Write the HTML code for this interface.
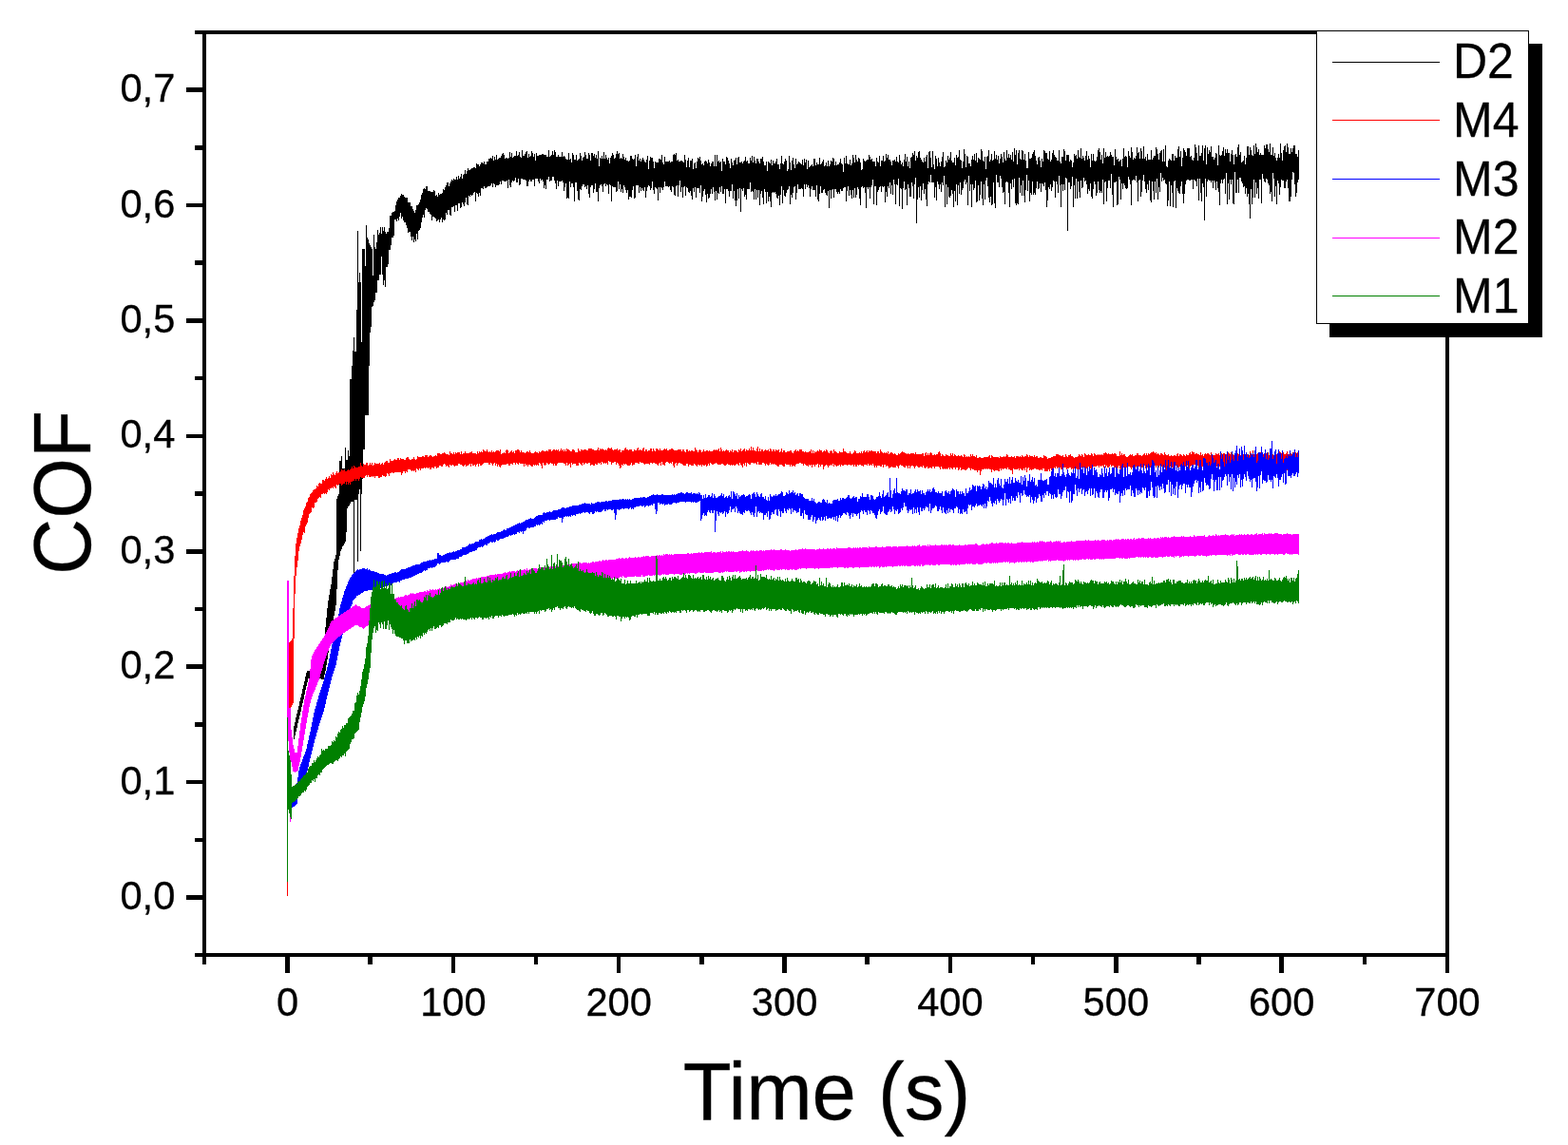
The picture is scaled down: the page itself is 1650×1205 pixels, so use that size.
<!DOCTYPE html>
<html><head><meta charset="utf-8"><title>COF vs Time</title>
<style>
html,body{margin:0;padding:0;background:#fff;overflow:hidden;}
svg{display:block;}
text{font-family:"Liberation Sans",Arial,sans-serif;fill:#000;stroke:#000;stroke-width:0.3px;stroke-linejoin:round;}
</style></head>
<body>
<svg width="1650" height="1205" viewBox="0 0 1650 1205">
<rect width="1650" height="1205" fill="#fff"/>
<g shape-rendering="crispEdges">
<rect x="205" y="32" width="1320" height="4" fill="#000"/>
<rect x="205" y="1003" width="1320" height="4" fill="#000"/>
<rect x="213" y="32" width="4" height="983" fill="#000"/>
<rect x="1521" y="32" width="4" height="992" fill="#000"/>
<rect x="196" y="942" width="17" height="5" fill="#000"/>
<rect x="196" y="821" width="17" height="4" fill="#000"/>
<rect x="196" y="699" width="17" height="5" fill="#000"/>
<rect x="196" y="578" width="17" height="5" fill="#000"/>
<rect x="196" y="457" width="17" height="4" fill="#000"/>
<rect x="196" y="335" width="17" height="5" fill="#000"/>
<rect x="196" y="214" width="17" height="4" fill="#000"/>
<rect x="196" y="92" width="17" height="5" fill="#000"/>
<rect x="205" y="882" width="8" height="4" fill="#000"/>
<rect x="205" y="760" width="8" height="5" fill="#000"/>
<rect x="205" y="639" width="8" height="4" fill="#000"/>
<rect x="205" y="517" width="8" height="5" fill="#000"/>
<rect x="205" y="396" width="8" height="4" fill="#000"/>
<rect x="205" y="274" width="8" height="5" fill="#000"/>
<rect x="205" y="153" width="8" height="5" fill="#000"/>
<rect x="300" y="1007" width="5" height="17" fill="#000"/>
<rect x="387" y="1007" width="5" height="8" fill="#000"/>
<rect x="475" y="1007" width="4" height="17" fill="#000"/>
<rect x="562" y="1007" width="4" height="8" fill="#000"/>
<rect x="649" y="1007" width="4" height="17" fill="#000"/>
<rect x="736" y="1007" width="5" height="8" fill="#000"/>
<rect x="823" y="1007" width="5" height="17" fill="#000"/>
<rect x="910" y="1007" width="5" height="8" fill="#000"/>
<rect x="998" y="1007" width="4" height="17" fill="#000"/>
<rect x="1085" y="1007" width="4" height="8" fill="#000"/>
<rect x="1172" y="1007" width="5" height="17" fill="#000"/>
<rect x="1259" y="1007" width="5" height="8" fill="#000"/>
<rect x="1346" y="1007" width="5" height="17" fill="#000"/>
<rect x="1434" y="1007" width="4" height="8" fill="#000"/>
</g>
<g shape-rendering="crispEdges" fill="none" stroke-width="1" transform="translate(0.5,0)">
<path d="M309 764v14M310 760v14M311 755v15M312 751v15M313 747v14M314 743v14M315 738v15M316 734v15M317 730v14M318 725v15M319 721v15M320 717v14M321 712v14M322 708v14M323 706v12M324 706v8M325 706v8M326 705v9M327 705v9M328 705v8M329 705v8M330 704v9M331 704v9M332 703v10M333 703v10M334 702v12M335 701v13M336 701v13M337 700v14M338 692v23M339 690v25M340 688v27M341 674v36M342 660v46M343 650v50M344 640v54M345 632v55M346 626v55M347 620v54M348 615v53M349 607v54M350 599v56M351 591v57M352 588v55M353 584v53M354 525v95M355 522v78M356 520v69M357 485v100M358 485v95M359 480v98M360 493v82M361 493v81M362 493v79M363 471v99M364 484v76M365 484v51M366 474v59M367 480v52M368 399v131M369 399v129M370 385v143M371 369v159M372 355v248M373 370v156M374 370v156M375 326v200M376 243v348M377 297v223M378 287v228M379 297v283M380 360v160M381 262v242M382 262v211M383 262v211M384 280v157M385 237v200M386 250v187M387 252v185M388 256v129M389 258v92M390 260v84M391 262v61M392 290v32M393 247v71M394 260v56M395 262v46M396 255v53M397 242v53M398 247v48M399 245v44M400 239v50M401 246v24M402 239v50M403 243v57M404 239v56M405 244v58M406 246v35M407 244v37M408 244v34M409 240v23M410 227v36M411 227v31M412 224v26M413 223v27M414 223v25M415 222v9M416 216v15M417 212v21M418 210v20M419 208v24M420 208v20M421 206v18M422 204v26M423 205v23M424 205v27M425 207v27M426 208v26M427 208v29M428 208v32M429 213v32M430 213v31M431 213v31M432 217v32M433 217v36M434 220v29M435 222v33M436 224v28M437 221v33M438 216v30M439 216v36M440 215v28M441 213v29M442 210v30M443 205v29M444 203v26M445 199v27M446 198v31M447 199v22M448 196v23M449 196v24M450 201v22M451 201v22M452 201v24M453 202v24M454 202v30M455 202v26M456 200v28M457 201v28M458 206v24M459 205v28M460 207v25M461 203v28M462 205v29M463 204v27M464 204v25M465 203v31M466 199v32M467 200v32M468 197v34M469 195v29M470 192v34M471 192v29M472 196v25M473 193v33M474 191v36M475 189v29M476 190v28M477 188v29M478 189v34M479 189v27M480 186v30M481 189v33M482 185v29M483 188v26M484 186v33M485 183v35M486 188v25M487 184v31M488 183v34M489 179v34M490 183v25M491 180v35M492 177v39M493 179v27M494 179v28M495 178v27M496 177v29M497 177v28M498 176v27M499 176v26M500 177v35M501 172v31M502 173v31M503 173v34M504 175v28M505 173v33M506 171v27M507 171v27M508 172v27M509 170v26M510 173v25M511 173v25M512 170v27M513 170v26M514 167v29M515 167v29M516 166v29M517 167v26M518 164v33M519 169v24M520 165v29M521 168v29M522 163v32M523 168v27M524 167v28M525 166v28M526 166v25M527 164v30M528 162v28M529 161v29M530 163v28M531 167v24M532 166v25M533 166v24M534 167v31M535 166v23M536 160v35M537 165v32M538 161v31M539 166v24M540 165v26M541 164v26M542 164v23M543 159v33M544 164v28M545 163v25M546 160v35M547 165v29M548 166v22M549 158v30M550 164v25M551 164v25M552 162v27M553 160v30M554 159v37M555 166v30M556 162v29M557 165v24M558 164v27M559 159v32M560 161v28M561 165v24M562 162v34M563 169v19M564 161v27M565 164v24M566 164v27M567 163v30M568 163v25M569 163v27M570 162v27M571 162v29M572 163v35M573 163v32M574 163v36M575 165v24M576 165v24M577 158v28M578 165v26M579 164v26M580 163v27M581 159v27M582 163v23M583 158v32M584 160v33M585 165v34M586 165v25M587 163v33M588 165v26M589 165v26M590 165v26M591 160v30M592 165v27M593 164v37M594 165v32M595 167v26M596 168v41M597 168v40M598 161v48M599 168v23M600 167v30M601 171v22M602 161v32M603 163v34M604 168v44M605 168v24M606 163v29M607 169v32M608 168v42M609 167v44M610 161v38M611 164v36M612 169v27M613 166v28M614 165v29M615 160v37M616 163v33M617 167v32M618 167v28M619 161v43M620 163v45M621 169v28M622 161v34M623 161v34M624 164v39M625 162v37M626 166v27M627 163v39M628 167v35M629 159v53M630 175v23M631 166v29M632 167v27M633 164v32M634 167v35M635 160v34M636 167v26M637 163v33M638 166v28M639 168v27M640 166v38M641 172v22M642 166v29M643 164v48M644 161v35M645 163v34M646 167v30M647 166v31M648 162v40M649 159v42M650 162v29M651 161v38M652 167v27M653 166v36M654 167v32M655 162v41M656 165v30M657 168v29M658 166v34M659 169v34M660 169v31M661 170v40M662 169v38M663 164v43M664 164v44M665 167v33M666 168v28M667 167v42M668 163v45M669 175v20M670 165v30M671 162v33M672 169v34M673 167v30M674 170v31M675 168v30M676 166v34M677 168v33M678 170v27M679 171v37M680 168v33M681 164v33M682 178v17M683 169v27M684 165v35M685 166v32M686 166v25M687 170v30M688 177v27M689 170v27M690 171v27M691 171v28M692 171v40M693 167v30M694 167v36M695 168v29M696 163v35M697 171v29M698 173v24M699 165v26M700 170v26M701 170v26M702 170v26M703 170v27M704 169v27M705 171v29M706 170v32M707 170v26M708 163v34M709 162v43M710 163v43M711 161v35M712 169v26M713 168v39M714 170v25M715 170v20M716 169v33M717 169v28M718 170v38M719 171v26M720 163v33M721 168v38M722 176v21M723 169v29M724 166v36M725 176v27M726 169v32M727 169v37M728 167v43M729 178v20M730 172v30M731 171v26M732 177v31M733 170v28M734 166v32M735 167v31M736 165v38M737 169v26M738 173v39M739 172v35M740 174v27M741 170v29M742 169v36M743 170v43M744 172v32M745 168v41M746 171v37M747 175v29M748 172v27M749 170v34M750 170v27M751 175v27M752 163v48M753 175v26M754 163v47M755 170v33M756 169v35M757 171v26M758 170v32M759 180v16M760 167v37M761 170v34M762 170v29M763 173v41M764 165v34M765 166v33M766 169v32M767 172v35M768 177v24M769 167v34M770 171v23M771 174v35M772 169v32M773 168v43M774 166v51M775 173v38M776 166v33M777 165v44M778 171v27M779 171v52M780 170v29M781 172v29M782 170v28M783 169v38M784 165v40M785 170v40M786 169v30M787 172v27M788 172v27M789 166v26M790 169v33M791 164v37M792 171v31M793 165v45M794 169v30M795 172v38M796 167v33M797 167v41M798 170v30M799 172v44M800 167v37M801 167v34M802 165v43M803 170v45M804 174v25M805 174v28M806 170v44M807 180v22M808 170v42M809 171v36M810 172v40M811 168v50M812 174v29M813 169v33M814 172v31M815 172v30M816 170v34M817 167v41M818 173v36M819 173v33M820 178v38M821 172v33M822 164v32M823 172v42M824 173v27M825 170v36M826 167v40M827 169v34M828 180v20M829 178v21M830 164v32M831 171v44M832 179v26M833 169v39M834 166v37M835 173v24M836 177v19M837 167v43M838 173v30M839 172v22M840 170v29M841 171v28M842 172v27M843 173v25M844 168v31M845 174v33M846 167v27M847 171v28M848 168v26M849 178v19M850 169v26M851 176v22M852 175v32M853 174v25M854 173v23M855 175v25M856 167v33M857 167v33M858 174v33M859 171v24M860 173v37M861 173v39M862 166v38M863 173v23M864 172v31M865 170v33M866 168v32M867 175v24M868 174v29M869 171v34M870 175v31M871 169v32M872 175v44M873 173v27M874 169v40M875 170v30M876 166v33M877 167v41M878 174v25M879 170v29M880 174v28M881 173v31M882 173v29M883 171v33M884 167v32M885 172v29M886 173v28M887 181v17M888 166v31M889 172v25M890 164v48M891 172v29M892 173v23M893 173v33M894 168v32M895 174v31M896 172v37M897 163v37M898 166v42M899 171v27M900 163v45M901 168v37M902 170v27M903 166v33M904 167v42M905 171v45M906 179v18M907 178v18M908 167v31M909 169v28M910 170v33M911 169v50M912 168v29M913 168v31M914 163v34M915 165v44M916 168v29M917 167v28M918 170v19M919 170v45M920 170v26M921 175v21M922 166v50M923 170v32M924 171v29M925 164v33M926 175v21M927 169v33M928 169v27M929 164v33M930 170v26M931 169v44M932 162v40M933 166v41M934 163v33M935 168v30M936 168v24M937 170v34M938 174v21M939 169v36M940 169v20M941 168v26M942 170v45M943 165v29M944 170v25M945 171v17M946 163v54M947 169v29M948 173v26M949 171v49M950 175v23M951 168v23M952 162v38M953 170v29M954 165v51M955 175v19M956 170v28M957 177v30M958 166v41M959 165v27M960 161v35M961 163v46M962 159v35M963 169v18M964 164v71M965 166v44M966 160v37M967 159v49M968 166v30M969 168v43M970 170v30M971 171v22M972 166v38M973 170v29M974 165v45M975 163v54M976 177v17M977 160v31M978 159v33M979 166v18M980 176v16M981 159v33M982 173v19M983 178v30M984 164v33M985 167v44M986 175v16M987 166v28M988 171v28M989 175v19M990 170v32M991 165v27M992 160v35M993 176v9M994 175v43M995 169v25M996 171v44M997 164v33M998 168v39M999 166v42M1000 160v46M1001 169v31M1002 171v33M1003 171v47M1004 166v35M1005 174v38M1006 163v31M1007 166v50M1008 165v30M1009 158v46M1010 168v24M1011 169v36M1012 177v23M1013 170v28M1014 157v34M1015 162v27M1016 176v18M1017 164v28M1018 165v51M1019 172v13M1020 172v29M1021 175v19M1022 168v50M1023 164v30M1024 168v32M1025 162v36M1026 169v21M1027 161v52M1028 171v41M1029 166v29M1030 167v44M1031 168v37M1032 157v34M1033 159v50M1034 169v47M1035 170v24M1036 165v45M1037 178v12M1038 165v22M1039 164v32M1040 158v50M1041 170v43M1042 168v39M1043 162v54M1044 169v46M1045 168v24M1046 159v55M1047 167v52M1048 163v21M1049 168v24M1050 164v28M1051 172v25M1052 167v18M1053 162v26M1054 165v32M1055 171v32M1056 160v42M1057 167v48M1058 169v23M1059 158v33M1060 166v26M1061 162v41M1062 166v52M1063 163v30M1064 168v31M1065 160v29M1066 170v27M1067 156v32M1068 163v51M1069 158v58M1070 173v41M1071 161v54M1072 158v29M1073 167v36M1074 168v27M1075 158v48M1076 159v31M1077 168v38M1078 162v51M1079 169v31M1080 177v7M1081 177v24M1082 160v30M1083 167v45M1084 167v36M1085 166v39M1086 162v29M1087 160v45M1088 158v45M1089 164v41M1090 169v29M1091 173v18M1092 166v33M1093 165v33M1094 169v24M1095 176v26M1096 167v26M1097 170v24M1098 158v38M1099 159v33M1100 161v39M1101 161v57M1102 167v44M1103 168v29M1104 159v40M1105 170v24M1106 168v33M1107 161v36M1108 158v32M1109 163v28M1110 165v43M1111 166v25M1112 169v25M1113 169v34M1114 158v27M1115 170v25M1116 172v46M1117 165v29M1118 165v36M1119 157v37M1120 159v41M1121 169v18M1122 163v25M1123 163v80M1124 163v29M1125 170v22M1126 168v31M1127 169v27M1128 176v10M1129 171v47M1130 162v33M1131 164v45M1132 163v25M1133 167v42M1134 158v33M1135 165v37M1136 166v42M1137 156v34M1138 167v31M1139 164v33M1140 166v21M1141 169v22M1142 164v26M1143 159v35M1144 168v36M1145 164v35M1146 167v34M1147 176v17M1148 162v45M1149 169v40M1150 162v37M1151 169v22M1152 170v24M1153 169v37M1154 165v38M1155 158v33M1156 156v44M1157 160v43M1158 168v33M1159 163v40M1160 172v17M1161 156v59M1162 166v26M1163 160v31M1164 165v47M1165 164v34M1166 165v25M1167 164v26M1168 160v38M1169 163v20M1170 165v40M1171 165v53M1172 174v18M1173 157v35M1174 165v26M1175 168v48M1176 167v48M1177 170v16M1178 169v20M1179 168v42M1180 175v18M1181 167v32M1182 156v37M1183 165v30M1184 164v34M1185 165v34M1186 176v22M1187 159v27M1188 164v25M1189 166v28M1190 155v61M1191 160v30M1192 168v21M1193 166v23M1194 167v23M1195 164v21M1196 155v37M1197 161v51M1198 160v30M1199 167v22M1200 156v51M1201 159v43M1202 167v23M1203 154v30M1204 167v24M1205 165v34M1206 169v34M1207 162v32M1208 168v32M1209 168v22M1210 168v43M1211 158v55M1212 168v23M1213 166v35M1214 164v46M1215 164v27M1216 155v48M1217 157v31M1218 162v48M1219 168v29M1220 161v41M1221 159v23M1222 158v33M1223 170v17M1224 157v33M1225 170v19M1226 153v40M1227 175v19M1228 176v41M1229 169v42M1230 167v24M1231 168v49M1232 169v26M1233 162v41M1234 162v56M1235 169v22M1236 164v26M1237 166v53M1238 166v32M1239 157v44M1240 154v49M1241 165v39M1242 159v37M1243 175v16M1244 166v38M1245 156v58M1246 158v46M1247 160v34M1248 164v26M1249 156v33M1250 156v33M1251 156v34M1252 165v25M1253 164v25M1254 168v21M1255 169v30M1256 166v23M1257 152v38M1258 155v36M1259 161v35M1260 169v19M1261 153v58M1262 164v24M1263 164v39M1264 161v51M1265 153v40M1266 169v28M1267 156v76M1268 153v35M1269 173v34M1270 155v36M1271 162v27M1272 158v32M1273 160v30M1274 154v38M1275 165v25M1276 165v33M1277 168v22M1278 166v26M1279 161v39M1280 162v29M1281 174v24M1282 153v49M1283 163v53M1284 164v29M1285 163v26M1286 159v34M1287 155v34M1288 164v24M1289 157v47M1290 161v21M1291 157v58M1292 161v32M1293 161v49M1294 170v19M1295 162v32M1296 158v31M1297 163v51M1298 173v42M1299 163v18M1300 162v41M1301 165v38M1302 155v34M1303 152v51M1304 163v24M1305 160v27M1306 171v20M1307 170v23M1308 169v28M1309 164v32M1310 173v31M1311 166v32M1312 154v53M1313 154v50M1314 163v52M1315 155v75M1316 158v41M1317 163v52M1318 164v44M1319 153v36M1320 162v46M1321 151v41M1322 155v49M1323 160v38M1324 157v52M1325 163v26M1326 161v28M1327 163v51M1328 163v20M1329 163v25M1330 153v38M1331 156v36M1332 152v36M1333 152v37M1334 157v36M1335 160v35M1336 151v53M1337 163v39M1338 163v49M1339 155v27M1340 164v24M1341 161v46M1342 166v30M1343 169v46M1344 166v24M1345 162v31M1346 166v39M1347 151v46M1348 161v28M1349 169v21M1350 158v32M1351 154v44M1352 153v45M1353 160v31M1354 151v38M1355 155v43M1356 162v50M1357 162v50M1358 156v51M1359 160v29M1360 156v25M1361 153v29M1362 153v41M1363 162v45M1364 162v41M1365 165v27M1366 158v31" stroke="#000"/>
<path d="M302 620v323M303 690v56M304 676v70M305 675v70M306 674v70M307 672v70M308 640v100M309 606v66M310 585v40M311 572v34M312 566v31M313 561v29M314 556v24M315 553v22M316 548v24M317 545v23M318 542v21M319 537v23M320 535v26M321 533v21M322 529v23M323 528v22M324 524v21M325 523v18M326 520v20M327 519v20M328 518v16M329 516v19M330 515v19M331 515v14M332 514v15M333 511v17M334 512v13M335 509v15M336 508v15M337 509v15M338 509v11M339 505v15M340 505v14M341 506v14M342 504v15M343 502v18M344 504v14M345 503v12M346 501v15M347 503v11M348 499v15M349 500v13M350 497v17M351 499v13M352 500v13M353 498v16M354 496v14M355 498v13M356 497v13M357 497v12M358 496v13M359 494v17M360 495v15M361 495v14M362 494v15M363 496v11M364 496v14M365 495v12M366 494v16M367 495v13M368 494v16M369 493v14M370 491v16M371 493v13M372 490v16M373 491v13M374 492v14M375 492v12M376 492v12M377 491v15M378 491v13M379 487v15M380 490v13M381 491v12M382 488v15M383 489v14M384 489v12M385 487v13M386 487v15M387 490v10M388 489v13M389 487v15M390 489v13M391 487v14M392 490v12M393 489v12M394 487v16M395 488v13M396 488v13M397 488v13M398 488v15M399 487v16M400 489v13M401 488v14M402 487v13M403 489v12M404 487v14M405 486v16M406 485v16M407 485v13M408 487v12M409 487v14M410 483v15M411 485v13M412 485v12M413 485v13M414 484v14M415 483v14M416 484v13M417 484v13M418 482v15M419 482v15M420 484v13M421 482v15M422 483v17M423 483v15M424 483v13M425 484v12M426 484v14M427 482v14M428 481v16M429 481v13M430 483v11M431 484v10M432 484v11M433 483v13M434 483v12M435 481v15M436 483v12M437 484v13M438 483v10M439 480v14M440 481v14M441 481v12M442 481v14M443 481v12M444 480v13M445 480v13M446 481v11M447 479v14M448 479v13M449 479v13M450 481v12M451 480v12M452 479v15M453 479v15M454 480v12M455 481v11M456 480v13M457 480v11M458 479v12M459 480v13M460 477v15M461 477v15M462 477v13M463 478v12M464 478v13M465 477v14M466 477v12M467 476v12M468 477v12M469 478v13M470 478v12M471 478v13M472 479v13M473 475v14M474 477v13M475 477v13M476 478v11M477 476v14M478 478v13M479 476v14M480 477v13M481 476v14M482 476v12M483 476v12M484 478v11M485 475v14M486 478v12M487 477v14M488 477v13M489 475v14M490 477v14M491 477v13M492 477v13M493 477v12M494 476v12M495 476v15M496 475v13M497 477v13M498 477v13M499 477v12M500 477v14M501 478v11M502 475v13M503 477v14M504 475v13M505 476v14M506 475v15M507 476v13M508 473v15M509 474v13M510 475v12M511 475v12M512 473v14M513 475v12M514 476v13M515 475v14M516 476v11M517 474v14M518 476v14M519 475v13M520 476v11M521 475v15M522 474v14M523 474v17M524 474v15M525 475v16M526 473v19M527 478v12M528 477v12M529 477v12M530 476v13M531 477v12M532 474v15M533 473v15M534 474v14M535 477v13M536 476v14M537 475v13M538 474v14M539 476v13M540 475v12M541 477v10M542 474v15M543 474v13M544 473v15M545 473v16M546 474v13M547 476v12M548 474v14M549 476v12M550 476v12M551 476v15M552 477v11M553 476v14M554 475v14M555 475v16M556 476v13M557 474v15M558 476v14M559 477v14M560 477v14M561 477v12M562 476v14M563 475v14M564 476v14M565 476v13M566 477v13M567 475v12M568 476v12M569 475v15M570 474v19M571 474v13M572 475v14M573 475v15M574 475v14M575 474v13M576 475v13M577 473v16M578 473v15M579 473v14M580 475v13M581 474v14M582 473v17M583 473v15M584 474v16M585 473v17M586 474v14M587 473v14M588 475v12M589 474v13M590 472v15M591 474v13M592 473v14M593 475v13M594 473v15M595 475v15M596 472v15M597 473v17M598 473v16M599 474v14M600 475v17M601 475v12M602 473v16M603 473v15M604 474v14M605 476v12M606 476v14M607 476v14M608 472v18M609 474v13M610 475v13M611 473v16M612 473v17M613 474v13M614 473v16M615 473v15M616 473v14M617 474v14M618 474v14M619 472v15M620 472v15M621 472v18M622 472v17M623 473v16M624 473v17M625 474v16M626 474v14M627 474v15M628 473v16M629 471v16M630 474v14M631 472v15M632 473v16M633 472v14M634 473v14M635 473v15M636 474v13M637 473v15M638 474v13M639 472v17M640 471v14M641 472v14M642 472v14M643 471v18M644 473v14M645 474v13M646 473v13M647 473v13M648 473v16M649 472v15M650 474v14M651 473v17M652 473v20M653 476v16M654 474v15M655 474v16M656 474v14M657 472v17M658 471v17M659 473v16M660 473v17M661 474v16M662 473v17M663 473v16M664 473v14M665 475v15M666 475v14M667 473v16M668 474v13M669 474v13M670 472v15M671 471v17M672 474v14M673 473v13M674 474v13M675 474v13M676 472v15M677 471v17M678 475v14M679 473v15M680 473v15M681 475v13M682 474v14M683 474v15M684 472v15M685 472v15M686 475v13M687 472v15M688 474v13M689 475v13M690 472v16M691 472v17M692 473v17M693 474v14M694 472v15M695 474v16M696 474v12M697 474v15M698 473v16M699 472v18M700 473v14M701 472v14M702 474v12M703 474v13M704 473v15M705 473v14M706 472v16M707 472v14M708 473v17M709 474v18M710 474v14M711 474v13M712 474v16M713 473v15M714 473v14M715 473v14M716 473v15M717 475v13M718 473v16M719 473v17M720 475v15M721 476v14M722 473v15M723 473v15M724 475v16M725 474v15M726 475v14M727 474v16M728 474v16M729 475v15M730 475v13M731 471v18M732 473v17M733 474v17M734 476v13M735 474v15M736 473v17M737 474v15M738 476v15M739 475v14M740 473v17M741 475v15M742 475v14M743 474v17M744 474v16M745 475v13M746 474v16M747 475v12M748 475v13M749 475v14M750 474v15M751 473v15M752 474v14M753 473v14M754 474v14M755 473v16M756 472v17M757 475v14M758 471v18M759 473v15M760 475v13M761 474v15M762 475v15M763 474v16M764 473v16M765 474v14M766 474v15M767 476v13M768 474v16M769 475v14M770 473v17M771 476v13M772 474v16M773 474v16M774 474v15M775 475v13M776 476v13M777 473v17M778 474v13M779 472v17M780 475v15M781 474v18M782 473v15M783 472v18M784 475v12M785 473v18M786 474v13M787 474v14M788 472v17M789 474v15M790 470v17M791 474v13M792 471v16M793 474v14M794 474v13M795 475v13M796 472v17M797 470v16M798 475v14M799 472v17M800 475v14M801 473v16M802 473v14M803 475v12M804 474v14M805 473v17M806 474v14M807 474v15M808 473v17M809 475v14M810 472v15M811 473v16M812 475v13M813 473v16M814 473v15M815 475v14M816 473v16M817 474v16M818 474v17M819 473v18M820 476v13M821 475v14M822 472v17M823 476v14M824 474v17M825 474v17M826 476v12M827 476v13M828 475v14M829 475v14M830 475v14M831 474v17M832 474v15M833 476v15M834 477v13M835 475v15M836 474v17M837 473v16M838 475v13M839 474v14M840 475v13M841 473v14M842 473v14M843 473v15M844 475v13M845 475v15M846 476v12M847 475v14M848 476v14M849 476v14M850 476v15M851 475v14M852 475v15M853 473v16M854 477v15M855 474v15M856 477v12M857 475v16M858 476v13M859 475v14M860 474v14M861 475v17M862 473v16M863 474v17M864 474v15M865 476v13M866 475v19M867 474v17M868 475v15M869 473v16M870 474v16M871 476v16M872 477v13M873 475v15M874 474v15M875 475v15M876 477v11M877 473v18M878 475v14M879 475v15M880 476v15M881 477v13M882 477v13M883 475v14M884 476v15M885 476v13M886 476v14M887 472v18M888 475v14M889 475v14M890 476v13M891 477v13M892 477v12M893 477v12M894 475v14M895 477v13M896 478v11M897 477v12M898 476v15M899 474v15M900 475v16M901 477v14M902 477v12M903 477v13M904 476v13M905 477v12M906 475v15M907 477v13M908 475v16M909 474v15M910 476v13M911 475v14M912 474v16M913 476v12M914 474v16M915 475v15M916 474v15M917 474v16M918 475v13M919 475v15M920 475v17M921 475v15M922 477v15M923 475v15M924 475v15M925 477v13M926 473v18M927 475v16M928 476v13M929 477v15M930 476v13M931 477v12M932 476v15M933 477v13M934 475v16M935 478v15M936 477v15M937 476v16M938 476v15M939 477v15M940 478v14M941 477v15M942 478v14M943 479v11M944 479v12M945 477v16M946 478v12M947 477v12M948 476v14M949 475v15M950 476v15M951 476v16M952 477v15M953 477v13M954 478v13M955 477v16M956 478v12M957 478v15M958 477v14M959 477v13M960 477v13M961 477v14M962 478v15M963 476v15M964 478v12M965 478v13M966 478v14M967 478v14M968 478v13M969 478v13M970 477v15M971 477v13M972 480v12M973 477v16M974 476v16M975 479v12M976 477v16M977 479v14M978 477v15M979 476v16M980 477v16M981 479v12M982 479v12M983 478v15M984 479v12M985 478v13M986 478v13M987 476v15M988 475v17M989 477v17M990 480v11M991 478v15M992 479v15M993 480v13M994 480v14M995 478v15M996 479v15M997 479v14M998 480v12M999 480v14M1000 477v15M1001 479v14M1002 477v17M1003 480v12M1004 478v14M1005 479v15M1006 480v12M1007 480v12M1008 479v16M1009 480v14M1010 480v12M1011 479v16M1012 480v14M1013 481v13M1014 478v16M1015 479v16M1016 481v14M1017 480v14M1018 481v12M1019 480v12M1020 481v12M1021 478v17M1022 480v13M1023 478v16M1024 480v14M1025 480v15M1026 481v14M1027 479v16M1028 482v15M1029 482v13M1030 481v14M1031 481v19M1032 482v14M1033 482v12M1034 482v12M1035 481v13M1036 481v12M1037 481v13M1038 481v12M1039 481v13M1040 480v13M1041 479v15M1042 482v12M1043 479v18M1044 480v14M1045 481v14M1046 481v15M1047 481v14M1048 481v14M1049 481v14M1050 481v15M1051 482v14M1052 480v13M1053 481v14M1054 481v12M1055 481v13M1056 480v13M1057 481v12M1058 480v13M1059 478v16M1060 479v13M1061 481v13M1062 481v13M1063 481v14M1064 480v15M1065 481v18M1066 481v12M1067 480v14M1068 482v12M1069 480v14M1070 480v14M1071 480v13M1072 481v14M1073 480v13M1074 481v13M1075 479v16M1076 480v15M1077 481v12M1078 480v15M1079 480v12M1080 478v19M1081 479v14M1082 481v11M1083 479v16M1084 480v14M1085 480v15M1086 480v14M1087 481v13M1088 479v14M1089 481v12M1090 480v14M1091 480v14M1092 482v12M1093 482v13M1094 481v14M1095 481v13M1096 482v13M1097 482v11M1098 479v14M1099 480v16M1100 480v16M1101 481v15M1102 483v13M1103 482v12M1104 482v14M1105 482v11M1106 481v14M1107 481v13M1108 480v13M1109 480v12M1110 480v13M1111 478v13M1112 478v15M1113 478v14M1114 479v14M1115 479v13M1116 480v14M1117 480v14M1118 479v13M1119 481v11M1120 481v11M1121 478v14M1122 480v14M1123 481v12M1124 479v14M1125 479v13M1126 478v14M1127 480v14M1128 480v13M1129 481v16M1130 482v11M1131 481v13M1132 481v12M1133 481v13M1134 480v15M1135 478v16M1136 479v12M1137 480v13M1138 478v14M1139 479v12M1140 481v11M1141 477v15M1142 478v15M1143 479v14M1144 479v13M1145 478v13M1146 479v14M1147 479v14M1148 477v18M1149 478v15M1150 480v11M1151 477v14M1152 478v13M1153 479v12M1154 479v11M1155 478v12M1156 479v13M1157 478v12M1158 479v12M1159 478v12M1160 479v11M1161 477v15M1162 477v12M1163 476v16M1164 477v13M1165 478v14M1166 477v15M1167 478v13M1168 478v11M1169 478v13M1170 477v13M1171 478v12M1172 477v15M1173 477v15M1174 478v15M1175 480v13M1176 480v12M1177 480v10M1178 475v18M1179 479v15M1180 477v14M1181 479v12M1182 478v14M1183 478v13M1184 480v14M1185 481v11M1186 481v11M1187 480v11M1188 479v12M1189 478v14M1190 479v15M1191 478v14M1192 480v14M1193 480v13M1194 479v13M1195 479v12M1196 477v16M1197 477v13M1198 479v12M1199 479v12M1200 479v12M1201 480v12M1202 479v13M1203 478v13M1204 477v13M1205 479v14M1206 477v13M1207 479v13M1208 477v13M1209 478v12M1210 477v15M1211 476v14M1212 476v13M1213 475v15M1214 476v14M1215 477v13M1216 476v16M1217 478v12M1218 477v13M1219 478v14M1220 479v11M1221 477v14M1222 477v14M1223 478v14M1224 479v11M1225 476v16M1226 478v12M1227 479v16M1228 479v13M1229 478v14M1230 480v12M1231 480v11M1232 479v13M1233 480v12M1234 480v12M1235 479v13M1236 479v14M1237 480v10M1238 478v13M1239 477v15M1240 480v13M1241 478v13M1242 478v14M1243 479v12M1244 480v11M1245 478v14M1246 479v13M1247 480v11M1248 478v13M1249 479v11M1250 479v12M1251 477v18M1252 476v15M1253 478v12M1254 475v16M1255 476v14M1256 476v13M1257 478v11M1258 477v15M1259 477v13M1260 478v12M1261 478v15M1262 479v12M1263 476v16M1264 479v13M1265 478v13M1266 480v12M1267 478v14M1268 477v14M1269 478v13M1270 477v13M1271 477v13M1272 478v16M1273 479v12M1274 476v15M1275 479v13M1276 479v12M1277 479v14M1278 479v12M1279 477v14M1280 478v13M1281 478v13M1282 477v15M1283 479v12M1284 479v13M1285 477v14M1286 480v10M1287 477v14M1288 477v16M1289 478v14M1290 478v12M1291 479v11M1292 476v16M1293 477v13M1294 478v15M1295 476v15M1296 476v14M1297 478v14M1298 479v13M1299 479v13M1300 479v13M1301 479v14M1302 477v15M1303 478v14M1304 478v16M1305 479v15M1306 479v13M1307 479v16M1308 478v17M1309 478v15M1310 480v13M1311 480v14M1312 478v14M1313 478v16M1314 479v14M1315 475v16M1316 479v14M1317 478v14M1318 474v17M1319 478v13M1320 477v14M1321 476v16M1322 478v12M1323 477v15M1324 478v14M1325 478v14M1326 476v14M1327 478v13M1328 476v15M1329 478v14M1330 477v15M1331 476v17M1332 477v14M1333 477v14M1334 476v15M1335 479v15M1336 478v14M1337 479v13M1338 480v12M1339 478v13M1340 479v13M1341 478v13M1342 477v15M1343 478v16M1344 478v14M1345 477v15M1346 475v17M1347 476v17M1348 477v15M1349 477v15M1350 476v19M1351 478v15M1352 478v16M1353 477v17M1354 475v20M1355 479v15M1356 478v18M1357 478v16M1358 477v20M1359 478v16M1360 476v21M1361 477v19M1362 478v18M1363 476v19M1364 477v20M1365 476v21M1366 475v23" stroke="#ff0000"/>
<path d="M303 843v9M304 843v9M305 843v8M306 843v7M307 843v7M308 843v6M309 842v7M310 842v6M311 833v14M312 824v22M313 818v22M314 811v22M315 807v22M316 804v23M317 802v24M318 799v25M319 796v26M320 794v27M321 791v28M322 788v28M323 783v28M324 779v28M325 774v28M326 770v28M327 765v29M328 760v30M329 755v31M330 750v32M331 746v32M332 743v32M333 739v32M334 736v32M335 732v32M336 729v32M337 726v32M338 723v32M339 720v32M340 717v32M341 713v32M342 709v32M343 706v30M344 702v30M345 698v30M346 693v31M347 688v32M348 683v33M349 678v34M350 674v35M351 670v36M352 666v37M353 662v38M354 656v39M355 651v39M356 646v39M357 640v40M358 636v40M359 633v39M360 629v39M361 626v38M362 622v38M363 620v37M364 617v37M365 615v35M366 612v35M367 610v34M368 608v33M369 607v31M370 605v31M371 604v28M372 603v28M373 602v28M374 601v28M375 600v27M376 599v28M377 600v26M378 599v27M379 599v26M380 599v25M381 598v26M382 598v25M383 598v24M384 599v23M385 599v23M386 598v24M387 600v21M388 599v22M389 600v21M390 601v20M391 601v20M392 601v19M393 601v19M394 602v18M395 602v17M396 602v17M397 603v17M398 603v15M399 604v15M400 604v15M401 604v14M402 604v14M403 604v14M404 605v13M405 605v12M406 606v11M407 605v12M408 605v11M409 604v11M410 604v11M411 604v12M412 603v11M413 603v11M414 603v10M415 602v11M416 602v11M417 603v10M418 602v10M419 602v10M420 601v12M421 600v11M422 599v12M423 599v11M424 599v11M425 599v11M426 599v10M427 598v11M428 598v11M429 597v12M430 597v11M431 597v11M432 596v12M433 596v11M434 595v12M435 595v11M436 595v11M437 594v11M438 594v11M439 594v10M440 594v10M441 594v9M442 593v10M443 592v11M444 592v10M445 591v10M446 591v9M447 591v10M448 591v9M449 590v10M450 590v8M451 590v8M452 589v9M453 590v7M454 589v9M455 589v8M456 589v8M457 588v9M458 588v8M459 588v7M460 582v11M461 582v11M462 584v10M463 584v9M464 585v7M465 585v7M466 584v8M467 584v8M468 583v9M469 583v8M470 582v9M471 582v10M472 582v9M473 581v9M474 582v7M475 581v8M476 581v8M477 580v9M478 581v8M479 580v9M480 580v8M481 579v9M482 579v9M483 579v7M484 578v8M485 578v8M486 576v9M487 576v8M488 576v8M489 576v8M490 575v9M491 575v8M492 574v9M493 573v9M494 572v9M495 573v8M496 572v9M497 572v8M498 572v8M499 571v9M500 570v9M501 570v9M502 570v7M503 570v6M504 568v8M505 568v8M506 567v8M507 568v8M508 567v8M509 567v7M510 566v7M511 565v9M512 565v9M513 564v8M514 564v8M515 563v8M516 563v7M517 562v9M518 563v8M519 562v8M520 562v9M521 562v8M522 561v7M523 560v9M524 560v9M525 560v8M526 560v7M527 559v8M528 559v8M529 558v9M530 557v9M531 558v8M532 558v7M533 556v9M534 556v9M535 556v8M536 555v8M537 555v9M538 554v9M539 554v9M540 553v9M541 553v10M542 552v10M543 552v10M544 551v9M545 551v9M546 550v11M547 551v8M548 550v10M549 550v9M550 549v13M551 549v10M552 548v11M553 547v11M554 547v9M555 547v8M556 546v10M557 546v10M558 545v10M559 546v9M560 546v9M561 546v9M562 545v9M563 544v10M564 543v9M565 543v10M566 542v10M567 542v11M568 542v10M569 542v9M570 542v10M571 540v9M572 539v11M573 540v8M574 540v8M575 539v9M576 539v8M577 539v8M578 538v10M579 539v8M580 539v8M581 538v9M582 537v10M583 537v10M584 537v10M585 537v9M586 537v9M587 536v8M588 536v9M589 536v9M590 535v10M591 534v16M592 534v12M593 534v10M594 535v9M595 535v8M596 534v10M597 534v9M598 534v10M599 533v10M600 533v11M601 533v9M602 532v11M603 532v10M604 532v10M605 532v11M606 532v9M607 532v9M608 532v9M609 531v9M610 531v10M611 531v9M612 530v10M613 530v9M614 530v9M615 529v11M616 530v9M617 530v9M618 530v9M619 530v10M620 530v11M621 531v8M622 529v10M623 530v11M624 530v11M625 530v10M626 529v9M627 529v10M628 528v10M629 528v11M630 528v11M631 529v10M632 528v11M633 528v10M634 528v9M635 528v8M636 528v10M637 527v11M638 527v9M639 528v9M640 527v9M641 527v9M642 527v9M643 527v10M644 526v11M645 526v10M646 526v14M647 526v21M648 526v16M649 526v10M650 526v10M651 526v11M652 525v11M653 526v10M654 525v10M655 525v10M656 525v11M657 526v9M658 525v10M659 526v9M660 525v10M661 526v10M662 525v10M663 526v8M664 526v10M665 525v10M666 525v11M667 524v10M668 524v10M669 524v9M670 524v9M671 524v9M672 524v9M673 524v8M674 523v9M675 524v9M676 523v10M677 523v9M678 523v11M679 524v9M680 524v8M681 523v9M682 523v10M683 522v10M684 522v10M685 521v10M686 521v11M687 520v10M688 521v9M689 521v15M690 521v20M691 520v18M692 521v8M693 521v8M694 521v10M695 521v9M696 520v10M697 520v11M698 521v9M699 521v11M700 521v10M701 521v10M702 521v10M703 521v9M704 521v10M705 521v10M706 521v10M707 520v10M708 521v8M709 520v9M710 521v8M711 520v10M712 520v9M713 519v10M714 519v10M715 519v9M716 518v10M717 518v10M718 519v9M719 519v9M720 520v8M721 519v10M722 518v10M723 518v10M724 519v9M725 519v9M726 519v9M727 518v11M728 520v8M729 519v10M730 519v9M731 519v10M732 520v9M733 519v10M734 520v8M735 518v10M736 519v8M737 521v27M738 521v25M739 525v17M740 521v19M741 524v19M742 520v22M743 524v19M744 523v16M745 521v16M746 521v18M747 523v17M748 522v15M749 519v21M750 524v16M751 520v17M752 522v38M753 524v24M754 524v14M755 523v18M756 522v21M757 522v17M758 521v19M759 519v20M760 522v19M761 520v20M762 524v14M763 523v21M764 522v17M765 524v17M766 522v18M767 521v16M768 523v10M769 517v22M770 525v11M771 517v19M772 518v17M773 520v19M774 522v11M775 519v16M776 525v15M777 521v17M778 523v17M779 522v19M780 521v20M781 521v21M782 520v19M783 521v19M784 523v14M785 522v16M786 522v16M787 521v16M788 520v18M789 521v19M790 525v17M791 520v19M792 519v23M793 518v26M794 520v20M795 523v10M796 518v26M797 520v19M798 522v16M799 523v17M800 520v19M801 519v21M802 523v17M803 523v24M804 525v17M805 522v20M806 526v14M807 527v17M808 523v15M809 527v20M810 520v26M811 522v20M812 523v16M813 522v19M814 521v20M815 522v15M816 520v16M817 522v20M818 521v22M819 520v16M820 520v18M821 519v25M822 517v21M823 518v22M824 522v18M825 522v13M826 521v17M827 518v22M828 519v17M829 520v17M830 516v19M831 519v17M832 518v23M833 518v17M834 516v23M835 519v18M836 518v19M837 521v17M838 520v20M839 519v20M840 522v17M841 519v16M842 519v24M843 520v23M844 520v20M845 523v23M846 524v13M847 525v16M848 525v17M849 525v17M850 525v22M851 527v20M852 527v20M853 527v17M854 524v18M855 527v22M856 525v22M857 528v16M858 529v22M859 530v18M860 529v18M861 528v17M862 528v19M863 529v19M864 529v15M865 526v22M866 525v22M867 526v18M868 528v20M869 529v14M870 526v20M871 530v16M872 529v16M873 530v15M874 530v16M875 530v15M876 527v17M877 526v21M878 526v18M879 526v22M880 526v17M881 525v24M882 527v18M883 527v15M884 524v21M885 526v17M886 524v18M887 524v16M888 525v15M889 525v16M890 524v18M891 523v16M892 521v19M893 521v22M894 524v22M895 525v17M896 524v16M897 523v21M898 522v18M899 524v17M900 523v18M901 523v20M902 528v13M903 525v15M904 525v21M905 522v17M906 523v14M907 519v19M908 523v18M909 523v14M910 523v16M911 523v16M912 520v22M913 520v17M914 523v15M915 526v15M916 521v16M917 521v17M918 522v18M919 525v15M920 526v16M921 525v20M922 523v23M923 523v19M924 522v16M925 518v18M926 522v19M927 524v15M928 520v18M929 516v17M930 523v17M931 522v19M932 521v21M933 519v23M934 518v21M935 523v15M936 503v33M937 516v23M938 524v14M939 520v13M940 516v20M941 514v27M942 519v18M943 503v35M944 518v18M945 519v22M946 519v21M947 520v19M948 517v18M949 514v23M950 516v18M951 516v13M952 517v16M953 515v18M954 515v22M955 521v19M956 519v19M957 519v17M958 515v22M959 520v16M960 519v22M961 519v15M962 517v23M963 515v21M964 518v22M965 515v19M966 517v22M967 517v25M968 516v18M969 520v18M970 516v22M971 519v16M972 519v18M973 521v14M974 518v15M975 517v17M976 515v19M977 517v21M978 515v15M979 518v22M980 517v20M981 514v21M982 513v22M983 515v19M984 518v14M985 518v15M986 519v19M987 517v21M988 519v17M989 519v14M990 519v18M991 517v23M992 522v12M993 522v17M994 517v23M995 516v25M996 518v19M997 519v21M998 517v18M999 520v19M1000 517v19M1001 516v20M1002 514v23M1003 515v25M1004 516v19M1005 523v12M1006 515v18M1007 517v17M1008 517v23M1009 520v16M1010 517v24M1011 520v20M1012 517v24M1013 519v17M1014 519v20M1015 522v17M1016 514v24M1017 519v22M1018 519v16M1019 517v14M1020 513v19M1021 516v15M1022 515v22M1023 510v23M1024 511v22M1025 512v22M1026 511v21M1027 517v13M1028 511v22M1029 512v20M1030 511v21M1031 512v19M1032 515v17M1033 512v21M1034 509v22M1035 510v25M1036 514v16M1037 512v23M1038 515v18M1039 513v14M1040 506v22M1041 508v15M1042 508v19M1043 509v21M1044 510v23M1045 503v26M1046 513v17M1047 509v18M1048 513v18M1049 505v20M1050 503v24M1051 509v20M1052 511v16M1053 504v21M1054 513v13M1055 514v18M1056 510v16M1057 504v15M1058 507v25M1059 507v18M1060 504v22M1061 509v20M1062 502v23M1063 509v21M1064 505v17M1065 502v25M1066 508v16M1067 508v19M1068 503v24M1069 506v16M1070 507v17M1071 505v13M1072 508v13M1073 508v21M1074 501v18M1075 510v12M1076 502v19M1077 506v10M1078 500v20M1079 503v18M1080 512v11M1081 506v16M1082 506v17M1083 499v22M1084 507v22M1085 505v18M1086 502v24M1087 507v23M1088 503v24M1089 511v12M1090 510v19M1091 512v13M1092 505v19M1093 505v15M1094 505v17M1095 498v30M1096 505v23M1097 506v15M1098 506v18M1099 505v14M1100 505v16M1101 504v13M1102 510v7M1103 510v12M1104 502v17M1105 501v19M1106 496v29M1107 493v28M1108 493v32M1109 501v19M1110 498v25M1111 502v22M1112 498v25M1113 498v17M1114 492v28M1115 501v19M1116 501v24M1117 499v23M1118 488v30M1119 497v19M1120 500v16M1121 502v10M1122 499v25M1123 494v23M1124 498v20M1125 500v29M1126 501v16M1127 497v32M1128 498v29M1129 494v26M1130 498v22M1131 491v19M1132 503v13M1133 501v21M1134 494v20M1135 504v14M1136 487v28M1137 492v22M1138 494v26M1139 491v25M1140 498v17M1141 491v31M1142 493v25M1143 500v17M1144 492v28M1145 496v20M1146 491v23M1147 494v28M1148 493v21M1149 489v32M1150 500v20M1151 492v22M1152 495v29M1153 494v23M1154 497v22M1155 502v21M1156 502v22M1157 499v19M1158 500v15M1159 493v22M1160 498v26M1161 502v22M1162 491v27M1163 498v18M1164 493v25M1165 501v15M1166 497v30M1167 492v32M1168 499v16M1169 498v17M1170 492v22M1171 492v26M1172 492v23M1173 502v19M1174 491v28M1175 493v27M1176 498v22M1177 499v18M1178 494v35M1179 494v28M1180 490v29M1181 488v34M1182 502v14M1183 491v30M1184 492v22M1185 501v15M1186 487v28M1187 499v16M1188 499v16M1189 497v14M1190 500v22M1191 497v19M1192 490v29M1193 489v34M1194 492v31M1195 494v20M1196 491v25M1197 490v31M1198 496v20M1199 494v26M1200 488v30M1201 495v24M1202 498v15M1203 488v26M1204 496v20M1205 498v15M1206 489v35M1207 495v29M1208 488v29M1209 490v32M1210 500v16M1211 490v17M1212 484v29M1213 485v37M1214 487v37M1215 497v26M1216 495v17M1217 502v22M1218 490v21M1219 500v13M1220 495v21M1221 488v24M1222 497v18M1223 491v18M1224 489v25M1225 494v25M1226 484v34M1227 495v15M1228 490v20M1229 484v21M1230 492v26M1231 492v15M1232 486v36M1233 493v17M1234 492v28M1235 486v28M1236 486v35M1237 495v17M1238 489v18M1239 496v28M1240 492v23M1241 495v16M1242 489v21M1243 488v27M1244 490v21M1245 486v23M1246 490v19M1247 495v24M1248 485v25M1249 491v22M1250 485v25M1251 493v20M1252 495v18M1253 492v31M1254 489v29M1255 489v23M1256 493v16M1257 491v15M1258 484v21M1259 484v24M1260 494v12M1261 492v27M1262 484v29M1263 484v34M1264 491v16M1265 495v22M1266 482v34M1267 482v21M1268 483v25M1269 487v24M1270 487v23M1271 490v21M1272 486v29M1273 490v24M1274 488v16M1275 478v21M1276 482v23M1277 487v30M1278 486v21M1279 484v21M1280 492v24M1281 488v28M1282 488v14M1283 494v22M1284 475v27M1285 483v30M1286 478v28M1287 486v19M1288 491v11M1289 478v21M1290 488v13M1291 475v36M1292 484v15M1293 480v27M1294 487v15M1295 484v31M1296 475v24M1297 483v34M1298 485v18M1299 477v36M1300 474v33M1301 469v41M1302 485v15M1303 480v23M1304 472v27M1305 480v33M1306 470v35M1307 474v38M1308 484v20M1309 469v30M1310 478v24M1311 476v30M1312 481v15M1313 478v23M1314 482v22M1315 481v26M1316 477v28M1317 479v34M1318 477v27M1319 481v22M1320 474v29M1321 470v37M1322 487v30M1323 485v28M1324 476v25M1325 476v38M1326 477v23M1327 470v26M1328 476v33M1329 481v24M1330 477v29M1331 473v33M1332 483v25M1333 476v31M1334 484v16M1335 482v23M1336 472v33M1337 472v35M1338 464v41M1339 483v31M1340 479v22M1341 475v27M1342 473v30M1343 488v11M1344 477v26M1345 473v39M1346 477v28M1347 477v28M1348 483v19M1349 474v25M1350 487v21M1351 483v15M1352 482v28M1353 480v29M1354 482v12M1355 478v23M1356 480v21M1357 474v27M1358 480v23M1359 479v21M1360 477v21M1361 476v25M1362 473v28M1363 481v18M1364 477v20M1365 481v21M1366 474v24" stroke="#0000ff"/>
<path d="M302 611v162M303 611v169M304 745v47M305 745v120M306 768v34M307 776v31M308 784v28M309 788v24M310 792v21M311 792v20M312 792v20M313 785v26M314 777v29M315 769v33M316 761v36M317 755v36M318 748v37M319 742v37M320 736v37M321 732v35M322 727v34M323 723v32M324 718v32M325 714v30M326 704v36M327 694v42M328 690v43M329 688v42M330 686v42M331 684v42M332 683v40M333 681v40M334 680v38M335 678v38M336 677v36M337 675v34M338 674v32M339 672v31M340 671v28M341 669v27M342 667v26M343 665v25M344 663v24M345 661v24M346 659v23M347 656v24M348 654v24M349 653v24M350 653v23M351 652v23M352 651v23M353 650v23M354 650v22M355 649v22M356 648v22M357 648v22M358 647v22M359 646v22M360 646v21M361 645v21M362 644v22M363 644v21M364 643v21M365 642v22M366 642v21M367 641v21M368 640v22M369 640v21M370 639v21M371 638v22M372 638v21M373 637v21M374 636v22M375 637v21M376 638v20M377 638v21M378 638v22M379 639v21M380 640v20M381 640v21M382 640v22M383 640v21M384 639v21M385 638v21M386 638v21M387 637v21M388 637v21M389 636v21M390 636v21M391 635v22M392 635v21M393 635v21M394 634v21M395 634v21M396 634v21M397 633v22M398 633v21M399 633v21M400 632v23M401 632v22M402 632v22M403 631v22M404 632v21M405 631v22M406 632v21M407 632v20M408 631v22M409 632v21M410 631v20M411 630v22M412 630v21M413 630v21M414 630v21M415 630v22M416 630v21M417 629v21M418 629v22M419 628v22M420 629v21M421 628v21M422 628v21M423 628v22M424 628v20M425 627v22M426 626v22M427 626v22M428 627v20M429 626v22M430 626v22M431 625v23M432 624v23M433 625v22M434 624v23M435 625v22M436 625v21M437 625v21M438 624v22M439 624v22M440 624v22M441 623v22M442 623v22M443 623v21M444 623v22M445 623v21M446 622v22M447 622v21M448 623v21M449 621v23M450 622v21M451 622v21M452 620v22M453 621v22M454 621v21M455 620v23M456 621v21M457 621v21M458 620v22M459 621v21M460 620v21M461 620v22M462 619v23M463 620v22M464 619v22M465 619v22M466 619v22M467 618v22M468 618v21M469 617v22M470 618v21M471 618v21M472 617v21M473 617v21M474 615v23M475 616v21M476 616v21M477 615v22M478 615v22M479 614v22M480 615v21M481 615v22M482 615v21M483 614v21M484 613v22M485 613v22M486 613v21M487 613v21M488 612v22M489 612v22M490 611v23M491 612v21M492 610v22M493 611v21M494 611v21M495 610v22M496 610v21M497 609v22M498 609v22M499 609v22M500 609v22M501 608v22M502 609v22M503 608v22M504 608v21M505 608v21M506 607v22M507 607v22M508 607v22M509 607v22M510 607v21M511 607v21M512 606v23M513 606v22M514 606v22M515 605v22M516 605v22M517 605v22M518 605v22M519 605v21M520 605v21M521 604v22M522 605v21M523 604v22M524 604v22M525 604v22M526 604v21M527 604v21M528 604v21M529 603v22M530 603v22M531 602v22M532 603v21M533 603v21M534 602v21M535 602v21M536 601v22M537 602v21M538 601v23M539 601v22M540 601v22M541 601v23M542 602v21M543 601v21M544 600v22M545 601v21M546 600v22M547 600v22M548 600v21M549 600v22M550 600v21M551 599v22M552 599v22M553 600v21M554 598v22M555 600v21M556 600v21M557 599v22M558 599v22M559 599v21M560 599v21M561 598v23M562 598v22M563 598v22M564 598v21M565 599v20M566 598v21M567 598v22M568 597v23M569 598v21M570 597v22M571 597v22M572 597v21M573 597v21M574 597v21M575 597v21M576 597v22M577 596v21M578 597v20M579 596v21M580 596v21M581 596v21M582 596v20M583 595v22M584 596v21M585 595v22M586 596v21M587 596v21M588 595v22M589 595v22M590 595v22M591 595v22M592 595v22M593 596v20M594 594v22M595 595v21M596 594v21M597 594v22M598 595v21M599 594v21M600 595v21M601 593v22M602 593v21M603 593v22M604 593v22M605 593v21M606 593v21M607 593v22M608 593v21M609 592v22M610 592v22M611 593v21M612 593v22M613 592v22M614 592v21M615 592v22M616 592v21M617 592v22M618 593v21M619 592v21M620 593v20M621 592v21M622 592v21M623 591v21M624 591v22M625 592v20M626 591v22M627 591v21M628 591v20M629 591v21M630 590v21M631 590v21M632 591v19M633 590v21M634 589v21M635 590v20M636 590v20M637 589v22M638 589v20M639 590v19M640 589v21M641 589v21M642 589v21M643 589v20M644 589v20M645 589v19M646 589v19M647 589v20M648 588v21M649 588v21M650 588v21M651 587v21M652 588v19M653 588v19M654 587v21M655 587v19M656 588v19M657 588v20M658 587v21M659 587v21M660 588v19M661 587v20M662 586v21M663 587v20M664 587v20M665 587v20M666 587v20M667 587v20M668 586v20M669 587v20M670 587v20M671 586v21M672 586v21M673 587v20M674 586v21M675 586v19M676 586v21M677 585v22M678 586v21M679 585v21M680 585v21M681 585v21M682 585v20M683 586v20M684 586v20M685 585v21M686 585v21M687 585v20M688 585v21M689 585v20M690 585v21M691 584v21M692 585v20M693 584v21M694 584v22M695 585v20M696 584v21M697 585v19M698 583v22M699 584v20M700 583v22M701 583v22M702 583v22M703 584v21M704 583v21M705 584v20M706 583v21M707 584v20M708 584v20M709 583v22M710 583v21M711 583v21M712 583v21M713 583v21M714 583v21M715 583v22M716 583v22M717 583v22M718 583v21M719 583v21M720 583v22M721 583v21M722 583v20M723 582v22M724 582v21M725 583v21M726 583v20M727 582v21M728 583v20M729 582v21M730 582v21M731 582v22M732 582v22M733 582v21M734 582v21M735 581v21M736 582v21M737 582v21M738 581v22M739 582v21M740 582v21M741 581v21M742 581v22M743 581v22M744 581v22M745 581v22M746 581v22M747 581v22M748 580v23M749 582v21M750 581v22M751 581v21M752 581v21M753 582v20M754 581v21M755 581v21M756 581v22M757 581v22M758 580v23M759 582v20M760 580v23M761 581v21M762 581v21M763 581v20M764 580v22M765 581v20M766 580v22M767 580v22M768 581v21M769 580v22M770 581v21M771 580v22M772 581v21M773 581v20M774 581v21M775 581v21M776 581v20M777 580v21M778 580v23M779 580v22M780 580v22M781 579v22M782 580v22M783 580v22M784 580v21M785 579v23M786 580v21M787 580v21M788 581v20M789 580v22M790 579v22M791 580v21M792 579v22M793 580v21M794 580v21M795 580v21M796 579v21M797 580v21M798 580v21M799 579v22M800 579v22M801 579v22M802 580v20M803 579v22M804 580v20M805 579v21M806 579v21M807 579v20M808 579v21M809 579v20M810 579v21M811 578v22M812 579v21M813 579v21M814 578v23M815 579v21M816 579v20M817 579v21M818 579v21M819 579v21M820 579v21M821 578v21M822 578v22M823 579v20M824 579v20M825 579v20M826 578v22M827 579v20M828 579v21M829 579v21M830 579v21M831 580v19M832 579v20M833 579v21M834 579v20M835 579v20M836 579v21M837 578v22M838 579v21M839 579v20M840 578v21M841 578v20M842 578v21M843 578v20M844 577v21M845 578v20M846 578v20M847 577v21M848 578v21M849 578v20M850 578v20M851 578v20M852 578v20M853 578v20M854 578v20M855 578v20M856 578v20M857 578v21M858 579v19M859 578v20M860 578v20M861 578v21M862 577v21M863 578v20M864 578v20M865 578v20M866 577v21M867 578v20M868 578v20M869 578v20M870 577v21M871 577v21M872 578v20M873 577v21M874 577v20M875 578v20M876 577v20M877 577v20M878 577v20M879 578v19M880 576v21M881 577v21M882 577v20M883 577v20M884 577v20M885 577v20M886 577v20M887 577v20M888 577v21M889 577v21M890 577v20M891 577v21M892 576v22M893 576v21M894 576v21M895 577v20M896 577v20M897 577v21M898 576v22M899 577v20M900 576v21M901 577v20M902 576v21M903 577v20M904 576v22M905 576v21M906 577v20M907 576v21M908 576v21M909 576v21M910 576v21M911 576v21M912 576v21M913 577v20M914 575v22M915 576v20M916 576v21M917 576v21M918 576v20M919 576v21M920 576v21M921 575v21M922 575v22M923 576v20M924 576v20M925 576v22M926 576v21M927 576v20M928 575v22M929 576v21M930 576v21M931 576v20M932 575v22M933 575v21M934 575v21M935 575v21M936 575v21M937 575v21M938 576v20M939 575v22M940 575v21M941 575v21M942 575v21M943 575v21M944 576v20M945 575v20M946 575v21M947 575v21M948 575v20M949 575v21M950 575v20M951 575v21M952 575v21M953 575v20M954 574v22M955 575v21M956 575v21M957 575v21M958 575v21M959 575v20M960 574v21M961 575v20M962 574v22M963 575v21M964 575v20M965 574v22M966 574v21M967 573v23M968 575v21M969 575v19M970 574v22M971 574v22M972 574v21M973 574v21M974 574v20M975 575v20M976 573v21M977 575v20M978 573v22M979 574v21M980 574v20M981 574v21M982 574v21M983 574v21M984 573v22M985 574v20M986 574v20M987 574v21M988 574v21M989 574v20M990 573v21M991 573v21M992 574v20M993 573v21M994 574v20M995 573v21M996 574v20M997 574v20M998 573v21M999 573v21M1000 573v22M1001 574v21M1002 573v21M1003 573v22M1004 574v20M1005 574v21M1006 574v21M1007 574v20M1008 574v20M1009 573v22M1010 574v20M1011 574v20M1012 574v20M1013 574v20M1014 574v20M1015 573v21M1016 573v20M1017 574v19M1018 573v21M1019 573v20M1020 573v21M1021 573v20M1022 573v20M1023 573v21M1024 573v21M1025 573v21M1026 572v22M1027 572v21M1028 573v20M1029 574v20M1030 574v20M1031 574v20M1032 573v21M1033 573v21M1034 572v21M1035 573v20M1036 573v19M1037 573v20M1038 572v21M1039 573v19M1040 573v19M1041 572v21M1042 572v21M1043 571v22M1044 571v21M1045 572v21M1046 572v20M1047 572v21M1048 571v21M1049 572v21M1050 572v20M1051 571v21M1052 571v21M1053 571v21M1054 571v21M1055 571v21M1056 572v19M1057 571v21M1058 571v21M1059 572v19M1060 571v21M1061 571v20M1062 572v21M1063 572v20M1064 571v21M1065 572v20M1066 572v20M1067 572v21M1068 572v20M1069 572v20M1070 571v20M1071 571v21M1072 571v21M1073 571v20M1074 571v21M1075 570v22M1076 571v20M1077 571v21M1078 571v20M1079 571v20M1080 571v21M1081 571v20M1082 571v20M1083 571v20M1084 571v21M1085 571v20M1086 570v22M1087 571v21M1088 570v21M1089 571v20M1090 571v20M1091 570v21M1092 571v20M1093 570v20M1094 569v22M1095 570v20M1096 569v22M1097 570v20M1098 570v20M1099 570v20M1100 571v19M1101 570v20M1102 570v19M1103 570v21M1104 570v20M1105 569v22M1106 570v20M1107 571v19M1108 570v20M1109 570v20M1110 570v20M1111 569v21M1112 570v19M1113 569v21M1114 570v20M1115 569v21M1116 571v19M1117 571v19M1118 571v19M1119 570v21M1120 570v20M1121 571v19M1122 570v19M1123 570v20M1124 570v19M1125 570v20M1126 570v19M1127 569v20M1128 570v19M1129 570v20M1130 570v19M1131 570v20M1132 569v20M1133 569v20M1134 569v21M1135 569v20M1136 569v20M1137 569v20M1138 569v20M1139 569v19M1140 569v20M1141 569v20M1142 568v21M1143 569v19M1144 569v19M1145 568v21M1146 569v19M1147 569v20M1148 569v20M1149 569v20M1150 569v19M1151 569v20M1152 568v21M1153 569v19M1154 569v19M1155 568v20M1156 569v19M1157 569v20M1158 569v19M1159 568v21M1160 568v20M1161 568v21M1162 568v20M1163 569v19M1164 569v19M1165 568v20M1166 569v19M1167 568v20M1168 568v20M1169 568v20M1170 569v19M1171 568v20M1172 568v20M1173 568v20M1174 567v20M1175 568v19M1176 567v20M1177 568v19M1178 568v20M1179 568v19M1180 567v21M1181 567v21M1182 567v20M1183 568v20M1184 567v21M1185 568v20M1186 567v21M1187 567v20M1188 568v20M1189 567v20M1190 567v20M1191 568v19M1192 567v20M1193 566v21M1194 568v19M1195 567v19M1196 567v19M1197 567v19M1198 566v21M1199 567v19M1200 567v20M1201 566v20M1202 566v20M1203 566v21M1204 567v19M1205 567v20M1206 567v19M1207 567v20M1208 566v21M1209 567v19M1210 566v20M1211 567v20M1212 567v20M1213 567v20M1214 566v20M1215 566v21M1216 567v20M1217 566v21M1218 566v21M1219 566v20M1220 567v19M1221 565v21M1222 566v20M1223 565v22M1224 566v20M1225 565v21M1226 565v21M1227 565v20M1228 566v20M1229 565v21M1230 566v20M1231 566v19M1232 565v21M1233 565v21M1234 565v21M1235 564v23M1236 565v20M1237 565v21M1238 565v20M1239 565v20M1240 565v20M1241 565v22M1242 565v21M1243 564v22M1244 565v20M1245 564v22M1246 565v20M1247 565v20M1248 565v20M1249 565v20M1250 565v21M1251 565v20M1252 564v21M1253 565v20M1254 565v20M1255 565v20M1256 563v22M1257 564v22M1258 565v20M1259 564v21M1260 564v20M1261 564v21M1262 564v21M1263 564v21M1264 564v20M1265 564v21M1266 564v21M1267 563v22M1268 565v20M1269 565v21M1270 565v20M1271 564v21M1272 563v22M1273 564v20M1274 564v21M1275 564v20M1276 563v21M1277 564v20M1278 564v20M1279 562v23M1280 563v21M1281 564v20M1282 563v21M1283 564v20M1284 563v21M1285 563v21M1286 563v21M1287 563v21M1288 563v21M1289 562v22M1290 563v21M1291 563v22M1292 563v21M1293 564v20M1294 563v22M1295 563v20M1296 562v23M1297 563v21M1298 562v22M1299 564v20M1300 563v20M1301 563v20M1302 563v20M1303 563v21M1304 562v22M1305 563v21M1306 562v21M1307 563v21M1308 563v21M1309 562v21M1310 563v21M1311 563v21M1312 562v21M1313 562v21M1314 563v21M1315 563v21M1316 562v22M1317 562v22M1318 563v21M1319 563v21M1320 562v21M1321 562v22M1322 561v22M1323 563v21M1324 562v21M1325 562v21M1326 562v22M1327 562v22M1328 561v22M1329 563v20M1330 561v22M1331 562v21M1332 562v22M1333 562v21M1334 562v21M1335 561v22M1336 562v22M1337 561v22M1338 562v21M1339 562v21M1340 562v21M1341 561v23M1342 561v22M1343 561v22M1344 561v23M1345 562v21M1346 562v21M1347 562v21M1348 562v21M1349 563v20M1350 562v22M1351 562v22M1352 562v21M1353 562v20M1354 561v22M1355 562v21M1356 562v21M1357 562v22M1358 562v21M1359 563v21M1360 562v21M1361 562v21M1362 562v21M1363 562v21M1364 562v21M1365 562v21M1366 562v22" stroke="#ff00ff"/>
<path d="M302 755v173M303 790v62M304 795v61M305 800v60M306 815v47M307 828v17M308 827v17M309 827v17M310 826v17M311 825v17M312 825v16M313 823v17M314 822v16M315 822v16M316 820v17M317 819v16M318 818v16M319 816v18M320 816v16M321 815v18M322 813v18M323 813v15M324 809v18M325 807v19M326 806v18M327 806v18M328 803v18M329 803v19M330 800v20M331 802v21M332 800v19M333 798v21M334 796v20M335 797v18M336 795v21M337 794v19M338 788v25M339 790v20M340 789v20M341 790v18M342 788v19M343 788v18M344 788v17M345 785v20M346 785v19M347 785v18M348 784v19M349 780v24M350 781v23M351 779v23M352 780v21M353 775v25M354 776v24M355 772v29M356 770v29M357 771v27M358 768v28M359 767v30M360 764v31M361 766v29M362 763v30M363 763v33M364 761v30M365 761v29M366 756v33M367 755v33M368 754v29M369 753v28M370 751v27M371 748v30M372 748v29M373 740v32M374 739v32M375 732v38M376 729v40M377 731v37M378 727v33M379 722v33M380 715v35M381 707v37M382 704v37M383 699v39M384 693v40M385 681v43M386 677v43M387 669v46M388 653v55M389 640v63M390 628v59M391 623v50M392 618v48M393 610v51M394 618v41M395 617v49M396 611v52M397 612v52M398 615v40M399 612v45M400 620v41M401 612v43M402 611v46M403 619v43M404 611v43M405 619v43M406 614v48M407 620v38M408 619v34M409 613v50M410 614v43M411 625v35M412 614v48M413 625v42M414 625v38M415 631v36M416 631v38M417 634v36M418 634v36M419 636v34M420 637v34M421 638v33M422 637v35M423 640v32M424 641v33M425 642v36M426 638v36M427 637v37M428 641v36M429 642v35M430 644v33M431 640v33M432 640v35M433 635v39M434 640v34M435 637v36M436 633v41M437 638v33M438 631v42M439 631v39M440 632v39M441 631v38M442 633v39M443 634v35M444 634v36M445 632v34M446 628v40M447 629v37M448 626v41M449 632v33M450 626v37M451 627v35M452 624v40M453 628v33M454 628v36M455 629v32M456 628v31M457 627v35M458 625v37M459 626v35M460 626v34M461 621v40M462 626v32M463 624v34M464 619v41M465 618v41M466 622v36M467 619v37M468 617v39M469 619v37M470 621v36M471 619v36M472 620v35M473 620v35M474 618v34M475 617v36M476 618v35M477 618v35M478 618v34M479 617v33M480 614v38M481 617v34M482 613v39M483 614v38M484 615v36M485 616v36M486 617v34M487 617v35M488 612v40M489 607v45M490 616v37M491 616v36M492 614v37M493 614v38M494 615v36M495 615v35M496 615v37M497 614v36M498 613v38M499 615v37M500 614v36M501 615v35M502 611v40M503 610v40M504 613v36M505 608v42M506 614v36M507 614v38M508 613v39M509 609v41M510 612v38M511 613v38M512 613v37M513 607v43M514 611v41M515 608v41M516 611v39M517 613v35M518 610v41M519 611v40M520 611v38M521 608v40M522 609v39M523 607v41M524 611v39M525 610v38M526 610v38M527 610v39M528 608v39M529 607v41M530 609v40M531 609v39M532 606v42M533 605v43M534 610v38M535 609v38M536 608v39M537 603v44M538 608v39M539 607v39M540 607v40M541 603v46M542 606v41M543 606v42M544 603v42M545 601v46M546 607v39M547 599v48M548 606v40M549 606v39M550 605v41M551 603v43M552 604v42M553 605v40M554 601v45M555 603v41M556 602v44M557 600v44M558 604v40M559 598v46M560 598v46M561 600v44M562 601v45M563 603v41M564 603v43M565 601v43M566 598v45M567 594v52M568 599v43M569 597v46M570 597v45M571 597v45M572 600v42M573 595v49M574 598v45M575 588v53M576 594v47M577 596v44M578 599v43M579 598v43M580 584v60M581 599v43M582 593v47M583 592v50M584 598v41M585 594v45M586 583v55M587 597v43M588 589v51M589 590v52M590 590v50M591 592v48M592 597v44M593 595v44M594 588v50M595 586v54M596 591v50M597 595v44M598 588v50M599 596v43M600 594v45M601 593v47M602 596v43M603 598v42M604 597v41M605 596v44M606 594v47M607 598v44M608 591v51M609 601v42M610 599v45M611 601v40M612 601v41M613 600v42M614 602v41M615 603v40M616 602v42M617 599v43M618 602v41M619 603v40M620 603v42M621 603v43M622 603v42M623 602v41M624 603v43M625 603v45M626 606v42M627 602v44M628 605v41M629 607v40M630 605v43M631 605v42M632 606v39M633 602v43M634 603v45M635 608v39M636 604v41M637 608v38M638 608v39M639 605v44M640 608v41M641 606v42M642 608v40M643 610v38M644 609v40M645 610v39M646 607v41M647 612v37M648 611v41M649 608v40M650 609v39M651 610v39M652 611v38M653 609v45M654 614v37M655 614v35M656 614v35M657 610v41M658 615v34M659 614v36M660 611v38M661 614v36M662 614v39M663 611v41M664 614v35M665 614v34M666 614v34M667 614v35M668 614v35M669 611v36M670 614v36M671 613v34M672 613v34M673 612v34M674 614v32M675 612v35M676 613v33M677 612v34M678 610v36M679 612v34M680 612v34M681 608v40M682 613v35M683 608v40M684 611v34M685 612v33M686 612v33M687 611v35M688 612v32M689 612v35M690 585v60M691 588v59M692 611v36M693 611v34M694 609v36M695 611v35M696 611v35M697 608v37M698 607v39M699 609v35M700 607v38M701 609v37M702 611v33M703 610v35M704 608v35M705 608v36M706 611v34M707 607v37M708 609v35M709 607v38M710 607v37M711 608v37M712 609v34M713 606v37M714 610v33M715 610v35M716 609v36M717 608v34M718 607v36M719 603v39M720 608v34M721 605v38M722 608v37M723 609v33M724 605v37M725 605v39M726 606v37M727 608v34M728 609v33M729 605v39M730 609v34M731 608v34M732 609v33M733 608v35M734 607v37M735 609v34M736 608v36M737 607v35M738 610v32M739 605v37M740 605v39M741 609v35M742 610v33M743 607v36M744 610v32M745 606v36M746 609v34M747 607v37M748 610v35M749 609v34M750 608v34M751 611v31M752 610v33M753 609v34M754 609v35M755 608v35M756 610v32M757 611v33M758 611v32M759 606v39M760 606v36M761 608v34M762 611v32M763 612v31M764 610v33M765 607v38M766 610v34M767 606v36M768 608v35M769 611v31M770 607v38M771 605v38M772 609v32M773 605v37M774 609v32M775 609v31M776 608v33M777 607v34M778 606v35M779 608v36M780 610v31M781 609v36M782 609v32M783 609v32M784 609v34M785 608v34M786 610v33M787 608v33M788 607v34M789 605v37M790 609v32M791 607v35M792 607v33M793 609v33M794 608v35M795 595v46M796 609v31M797 605v36M798 611v31M799 610v31M800 604v38M801 607v34M802 607v33M803 607v34M804 607v33M805 608v31M806 605v37M807 609v32M808 610v30M809 609v34M810 610v31M811 606v37M812 610v31M813 609v32M814 608v33M815 611v30M816 609v34M817 610v32M818 607v35M819 611v30M820 607v34M821 610v32M822 611v31M823 610v30M824 611v30M825 612v30M826 609v34M827 612v31M828 608v33M829 611v31M830 612v31M831 612v31M832 611v35M833 609v32M834 611v31M835 612v32M836 612v31M837 608v35M838 608v35M839 610v32M840 609v35M841 613v32M842 609v33M843 611v34M844 613v33M845 612v34M846 612v31M847 613v34M848 614v31M849 612v32M850 611v34M851 611v33M852 612v31M853 615v30M854 614v31M855 613v31M856 611v35M857 612v35M858 612v33M859 615v31M860 614v33M861 617v30M862 608v37M863 616v30M864 612v34M865 616v30M866 614v33M867 617v30M868 617v32M869 608v38M870 618v28M871 615v32M872 613v34M873 614v35M874 617v31M875 618v29M876 616v33M877 618v29M878 617v30M879 618v29M880 617v32M881 615v35M882 618v28M883 618v28M884 617v30M885 613v33M886 613v34M887 617v31M888 613v33M889 616v30M890 616v32M891 615v34M892 616v31M893 614v34M894 617v29M895 617v30M896 615v31M897 618v29M898 616v33M899 617v30M900 617v30M901 615v32M902 618v29M903 617v29M904 614v33M905 617v29M906 616v30M907 618v30M908 618v28M909 617v30M910 618v28M911 617v31M912 618v29M913 618v28M914 617v29M915 618v27M916 617v28M917 615v30M918 614v32M919 614v30M920 617v29M921 614v30M922 614v32M923 615v32M924 618v26M925 617v28M926 617v28M927 615v30M928 614v31M929 617v28M930 616v30M931 616v28M932 617v27M933 617v28M934 615v31M935 615v30M936 617v29M937 617v28M938 616v28M939 618v27M940 617v28M941 618v28M942 618v29M943 620v27M944 619v26M945 617v27M946 619v25M947 615v29M948 617v27M949 615v29M950 618v27M951 616v28M952 616v29M953 616v28M954 617v29M955 616v27M956 619v25M957 616v29M958 618v26M959 608v37M960 616v28M961 619v25M962 618v29M963 616v28M964 620v25M965 620v25M966 619v27M967 621v24M968 619v27M969 617v27M970 618v27M971 619v25M972 620v24M973 619v27M974 619v24M975 615v29M976 618v28M977 618v26M978 615v29M979 619v26M980 616v28M981 615v28M982 615v31M983 618v27M984 614v32M985 619v25M986 618v28M987 616v27M988 619v26M989 618v25M990 618v28M991 618v26M992 619v25M993 619v27M994 618v26M995 615v28M996 619v24M997 614v29M998 619v25M999 617v27M1000 617v26M1001 614v31M1002 615v28M1003 618v28M1004 618v25M1005 614v28M1006 617v26M1007 615v28M1008 618v25M1009 614v30M1010 616v28M1011 618v25M1012 614v29M1013 614v29M1014 618v24M1015 614v29M1016 613v30M1017 615v29M1018 616v27M1019 614v28M1020 617v24M1021 616v25M1022 616v26M1023 612v31M1024 616v27M1025 614v29M1026 616v25M1027 616v27M1028 613v30M1029 614v29M1030 615v26M1031 615v27M1032 615v25M1033 616v24M1034 613v31M1035 616v25M1036 612v31M1037 617v24M1038 617v24M1039 614v28M1040 616v26M1041 614v28M1042 614v27M1043 614v28M1044 614v30M1045 615v27M1046 611v31M1047 617v26M1048 616v26M1049 617v24M1050 617v24M1051 616v25M1052 613v28M1053 617v26M1054 613v28M1055 616v26M1056 613v28M1057 613v28M1058 616v25M1059 615v26M1060 616v24M1061 616v26M1062 606v34M1063 615v25M1064 613v27M1065 616v24M1066 614v26M1067 616v25M1068 613v27M1069 615v27M1070 611v30M1071 616v26M1072 615v27M1073 616v24M1074 616v25M1075 611v29M1076 616v24M1077 614v27M1078 615v25M1079 615v25M1080 613v29M1081 615v26M1082 611v30M1083 615v25M1084 611v31M1085 616v26M1086 613v27M1087 616v25M1088 614v28M1089 613v28M1090 614v27M1091 609v33M1092 611v28M1093 612v27M1094 613v28M1095 613v27M1096 612v27M1097 614v26M1098 614v25M1099 613v27M1100 614v25M1101 613v27M1102 611v28M1103 612v28M1104 615v25M1105 613v26M1106 611v28M1107 616v24M1108 614v25M1109 615v24M1110 614v26M1111 614v25M1112 615v24M1113 616v23M1114 613v26M1115 606v34M1116 616v23M1117 615v25M1118 600v41M1119 594v46M1120 616v24M1121 613v27M1122 614v25M1123 616v24M1124 614v25M1125 612v28M1126 613v26M1127 613v27M1128 613v26M1129 615v26M1130 614v25M1131 610v29M1132 611v29M1133 612v25M1134 610v29M1135 612v25M1136 614v25M1137 612v26M1138 614v24M1139 615v26M1140 612v26M1141 613v25M1142 613v25M1143 614v24M1144 613v26M1145 614v24M1146 613v24M1147 611v26M1148 610v28M1149 611v27M1150 611v30M1151 614v25M1152 611v26M1153 612v28M1154 612v26M1155 615v23M1156 613v24M1157 612v26M1158 614v24M1159 614v25M1160 614v23M1161 614v25M1162 612v28M1163 613v26M1164 612v26M1165 614v24M1166 613v25M1167 615v24M1168 614v23M1169 611v27M1170 612v27M1171 612v27M1172 614v23M1173 615v23M1174 612v27M1175 615v23M1176 612v27M1177 613v25M1178 610v27M1179 613v23M1180 611v26M1181 615v22M1182 612v26M1183 612v27M1184 609v30M1185 612v26M1186 614v23M1187 610v27M1188 615v23M1189 615v24M1190 614v24M1191 613v25M1192 612v28M1193 614v26M1194 614v25M1195 615v21M1196 615v22M1197 610v27M1198 613v26M1199 611v26M1200 614v24M1201 612v25M1202 612v25M1203 615v22M1204 610v29M1205 615v24M1206 615v24M1207 615v25M1208 616v21M1209 613v25M1210 612v26M1211 614v25M1212 607v31M1213 615v22M1214 611v26M1215 615v22M1216 614v26M1217 614v22M1218 614v23M1219 613v25M1220 614v23M1221 613v24M1222 613v23M1223 613v23M1224 611v24M1225 611v27M1226 613v25M1227 610v27M1228 610v28M1229 609v27M1230 612v25M1231 610v28M1232 613v23M1233 615v21M1234 610v26M1235 610v28M1236 614v22M1237 614v23M1238 612v24M1239 612v25M1240 611v27M1241 611v27M1242 611v25M1243 613v23M1244 613v23M1245 614v23M1246 614v21M1247 613v25M1248 613v24M1249 610v26M1250 614v23M1251 612v24M1252 614v22M1253 612v26M1254 614v22M1255 611v26M1256 610v25M1257 611v24M1258 611v25M1259 614v23M1260 612v22M1261 609v28M1262 611v25M1263 613v22M1264 613v23M1265 611v24M1266 613v24M1267 611v26M1268 610v25M1269 611v23M1270 611v23M1271 606v28M1272 613v24M1273 612v22M1274 611v25M1275 614v21M1276 610v29M1277 615v22M1278 615v21M1279 614v24M1280 614v23M1281 610v27M1282 613v23M1283 614v22M1284 611v25M1285 613v24M1286 613v24M1287 613v25M1288 613v24M1289 610v26M1290 612v22M1291 613v24M1292 608v30M1293 610v26M1294 614v21M1295 608v27M1296 610v25M1297 613v21M1298 609v26M1299 613v23M1300 611v26M1301 590v45M1302 596v41M1303 610v26M1304 609v25M1305 611v23M1306 609v28M1307 609v26M1308 611v23M1309 608v26M1310 610v24M1311 608v28M1312 610v24M1313 609v25M1314 608v27M1315 607v28M1316 609v24M1317 608v27M1318 607v27M1319 610v23M1320 608v27M1321 606v27M1322 611v25M1323 607v29M1324 611v25M1325 607v30M1326 609v27M1327 611v23M1328 610v27M1329 607v27M1330 611v22M1331 610v24M1332 611v23M1333 609v26M1334 611v21M1335 600v35M1336 610v22M1337 609v23M1338 610v24M1339 611v23M1340 611v24M1341 608v27M1342 609v25M1343 611v22M1344 611v25M1345 610v24M1346 608v25M1347 611v22M1348 612v22M1349 610v24M1350 608v25M1351 607v25M1352 608v25M1353 606v27M1354 609v25M1355 611v23M1356 609v24M1357 613v21M1358 608v26M1359 608v25M1360 611v25M1361 608v26M1362 612v21M1363 609v26M1364 608v24M1365 604v29M1366 600v35" stroke="#008000"/>
</g>
<g shape-rendering="crispEdges">
<rect x="1399" y="46" width="224" height="309" fill="#000"/>
<rect x="1385.5" y="32.5" width="223" height="308" fill="#fff" stroke="#000" stroke-width="1"/>
<rect x="1402" y="65" width="113" height="1" fill="#000"/>
<rect x="1402" y="126" width="113" height="1" fill="#ff0000"/>
<rect x="1402" y="188" width="113" height="1" fill="#0000ff"/>
<rect x="1402" y="250" width="113" height="1" fill="#ff00ff"/>
<rect x="1402" y="311" width="113" height="1" fill="#008000"/>
</g>
<g>
<text transform="translate(1529.0,82.2) scale(1.0,1.03)" text-anchor="start" font-size="50">D2</text>
<text transform="translate(1529.0,143.9) scale(1.0,1.03)" text-anchor="start" font-size="50">M4</text>
<text transform="translate(1529.0,205.9) scale(1.0,1.03)" text-anchor="start" font-size="50">M3</text>
<text transform="translate(1529.0,266.9) scale(1.0,1.03)" text-anchor="start" font-size="50">M2</text>
<text transform="translate(1529.0,329.0) scale(1.0,1.03)" text-anchor="start" font-size="50">M1</text>
<text transform="translate(184.3,957.1) scale(1.0,1.03)" text-anchor="end" font-size="41.67">0,0</text>
<text transform="translate(184.3,835.7) scale(1.0,1.03)" text-anchor="end" font-size="41.67">0,1</text>
<text transform="translate(184.3,714.2) scale(1.0,1.03)" text-anchor="end" font-size="41.67">0,2</text>
<text transform="translate(184.3,592.8) scale(1.0,1.03)" text-anchor="end" font-size="41.67">0,3</text>
<text transform="translate(184.3,471.4) scale(1.0,1.03)" text-anchor="end" font-size="41.67">0,4</text>
<text transform="translate(184.3,350.0) scale(1.0,1.03)" text-anchor="end" font-size="41.67">0,5</text>
<text transform="translate(184.3,228.5) scale(1.0,1.03)" text-anchor="end" font-size="41.67">0,6</text>
<text transform="translate(184.3,107.1) scale(1.0,1.03)" text-anchor="end" font-size="41.67">0,7</text>
<text transform="translate(302.5,1069.4) scale(1.0,1.03)" text-anchor="middle" font-size="41.67">0</text>
<text transform="translate(476.9,1069.4) scale(1.0,1.03)" text-anchor="middle" font-size="41.67">100</text>
<text transform="translate(651.2,1069.4) scale(1.0,1.03)" text-anchor="middle" font-size="41.67">200</text>
<text transform="translate(825.6,1069.4) scale(1.0,1.03)" text-anchor="middle" font-size="41.67">300</text>
<text transform="translate(999.9,1069.4) scale(1.0,1.03)" text-anchor="middle" font-size="41.67">400</text>
<text transform="translate(1174.3,1069.4) scale(1.0,1.03)" text-anchor="middle" font-size="41.67">500</text>
<text transform="translate(1348.7,1069.4) scale(1.0,1.03)" text-anchor="middle" font-size="41.67">600</text>
<text transform="translate(1523.0,1069.4) scale(1.0,1.03)" text-anchor="middle" font-size="41.67">700</text>
<text transform="translate(870.0,1178.0) scale(1.0,1.03)" text-anchor="middle" font-size="83.33">Time (s)</text>
<text transform="translate(95.0,518.5) rotate(-90) scale(0.983,1.03)" text-anchor="middle" font-size="83.33">COF</text>
</g>
</svg>
</body></html>
